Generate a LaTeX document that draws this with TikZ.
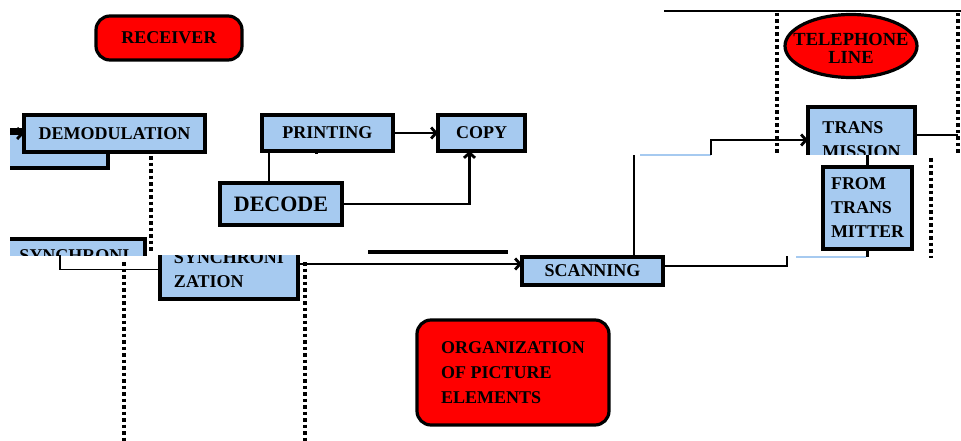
\documentclass[tikz,border=0pt]{standalone}
\usepackage{fontspec}
\setmainfont{Liberation Serif}
\usetikzlibrary{arrows.meta,shapes.geometric}

\definecolor{boxblue}{RGB}{166,202,240}
\definecolor{tagred}{RGB}{255,0,0}

\begin{document}
\begin{tikzpicture}[x=1pt,y=-1pt,
  every node/.style={inner sep=0pt, outer sep=0pt, font=\bfseries\fontsize{18}{24}\selectfont},
  block/.style={draw=black, line width=3.2pt, fill=boxblue, anchor=north west, align=left},
  tag/.style={draw=black, line width=3.2pt, fill=tagred, rounded corners=14pt, align=left},
  link/.style={line width=2.8pt},
  wire/.style={line width=1.4pt},
  ghost/.style={draw=boxblue, line width=1.6pt},
  arr/.style={link, -{Straight Barb[length=5pt,width=11pt]}},
  border/.style={line width=3.2pt, dash pattern=on 3.5pt off 3pt}]
\useasboundingbox (0,0) rectangle (961,441);

% dotted borders
\draw[border] (151,156) -- (151,252);
\draw[border] (124,262) -- (124,441);
\draw[border] (305,262) -- (305,441);
\draw[border] (777,13) -- (777,155);
\draw[border] (958,13) -- (958,155);
\draw[border] (931,158) -- (931,258);

% receiving side
\node[tag, minimum width=146pt, minimum height=44pt, align=center] (rcv) at (169,38) {RECEIVER};
\begin{scope}
  \clip (10,100) rectangle (120,180);
  \node[block, minimum width=104pt, minimum height=38pt] (demodb) at (4,130) {};
\end{scope}
\node[block, minimum width=181pt, minimum height=37pt, align=center] (demod) at (24,115) {DEMODULATION};
\node[block, minimum width=131pt, minimum height=36pt] (prnt) at (262,115) {PRINTING};
\node[block, minimum width=87pt, minimum height=36pt] (copy) at (438,115) {COPY};
\node[block, minimum width=122pt, minimum height=42pt, font=\bfseries\fontsize{22}{26}\selectfont] (decode) at (220,183) {DECODE};

% synchronization
\begin{scope}
  \clip (10,230) rectangle (160,255);
  \node[block, minimum width=141pt, minimum height=34pt] (syncl) at (4,239) {SYNCHRONI};
\end{scope}
\begin{scope}
  \clip (150,255) rectangle (310,310);
  \node[block, minimum width=138pt, minimum height=59pt] (sync) at (160,240) {SYNCHRONI\\ZATION};
\end{scope}

% sending side
\node[block, minimum width=141pt, minimum height=28pt] (scan) at (522,257) {SCANNING};
\node[tag, minimum width=192pt, minimum height=105pt, font=\bfseries\fontsize{18}{25}\selectfont] (org) at (513,372.5) {ORGANIZATION\\OF PICTURE\\ELEMENTS};

% line
\draw[wire] (664,11) -- (961,11);
\node[draw=black, line width=3.2pt, fill=tagred, ellipse, minimum width=132pt, minimum height=63pt] (tel) at (851,46) {};
\node[align=center, font=\bfseries\fontsize{18.5}{18}\selectfont] (tellbl) at (851,48) {TELEPHONE\\LINE};
\begin{scope}
  \clip (790,95) rectangle (930,155);
  \node[block, minimum width=107pt, minimum height=65pt] (trans) at (808,107) {TRANS\\MISSION};
\end{scope}
\node[block, minimum width=89pt, minimum height=82pt] (from) at (823,167) {FROM\\TRANS\\MITTER};

% connectors
\coordinate (rx) at (10,133.5);
\coordinate (synccut) at (60,255);
\coordinate (upcut) at (634,155);
\coordinate (upstep) at (711,155);
\coordinate (rstep) at (787,256);

\draw[arr] (rx) -- (demod.west);
\draw[arr] (prnt.east) -- (copy.west);
\draw[link] (decode.north -| 269,0) -- (prnt.south -| 269,0);
\draw[link] ([xshift=-11pt]prnt.south) -- ++(0,3);
\draw[arr] (decode.east) -| ([xshift=-12pt]copy.south);

\draw[wire] (synccut) |- (sync.west);
\draw[arr] (sync.east |- 0,264) -- (scan.west |- 0,264);
\draw[line width=3.8pt] (368,252) -- (508,252);

\draw[wire] (scan.north -| upcut) -- (upcut);
\draw[ghost] (640,155) -- (upstep);
\draw[arr] (upstep) |- (trans.west |- 0,140);
\draw[link] (scan.east |- 0,266) -| (rstep);
\draw[ghost] (796,257) -- (866,257);
\draw[link] (from.south) -- ++(0,8);
\draw[link] (from.north) -- ++(0,-12);
\draw[wire] (trans.east |- 0,135) -- (958,135);
\end{tikzpicture}
\end{document}
